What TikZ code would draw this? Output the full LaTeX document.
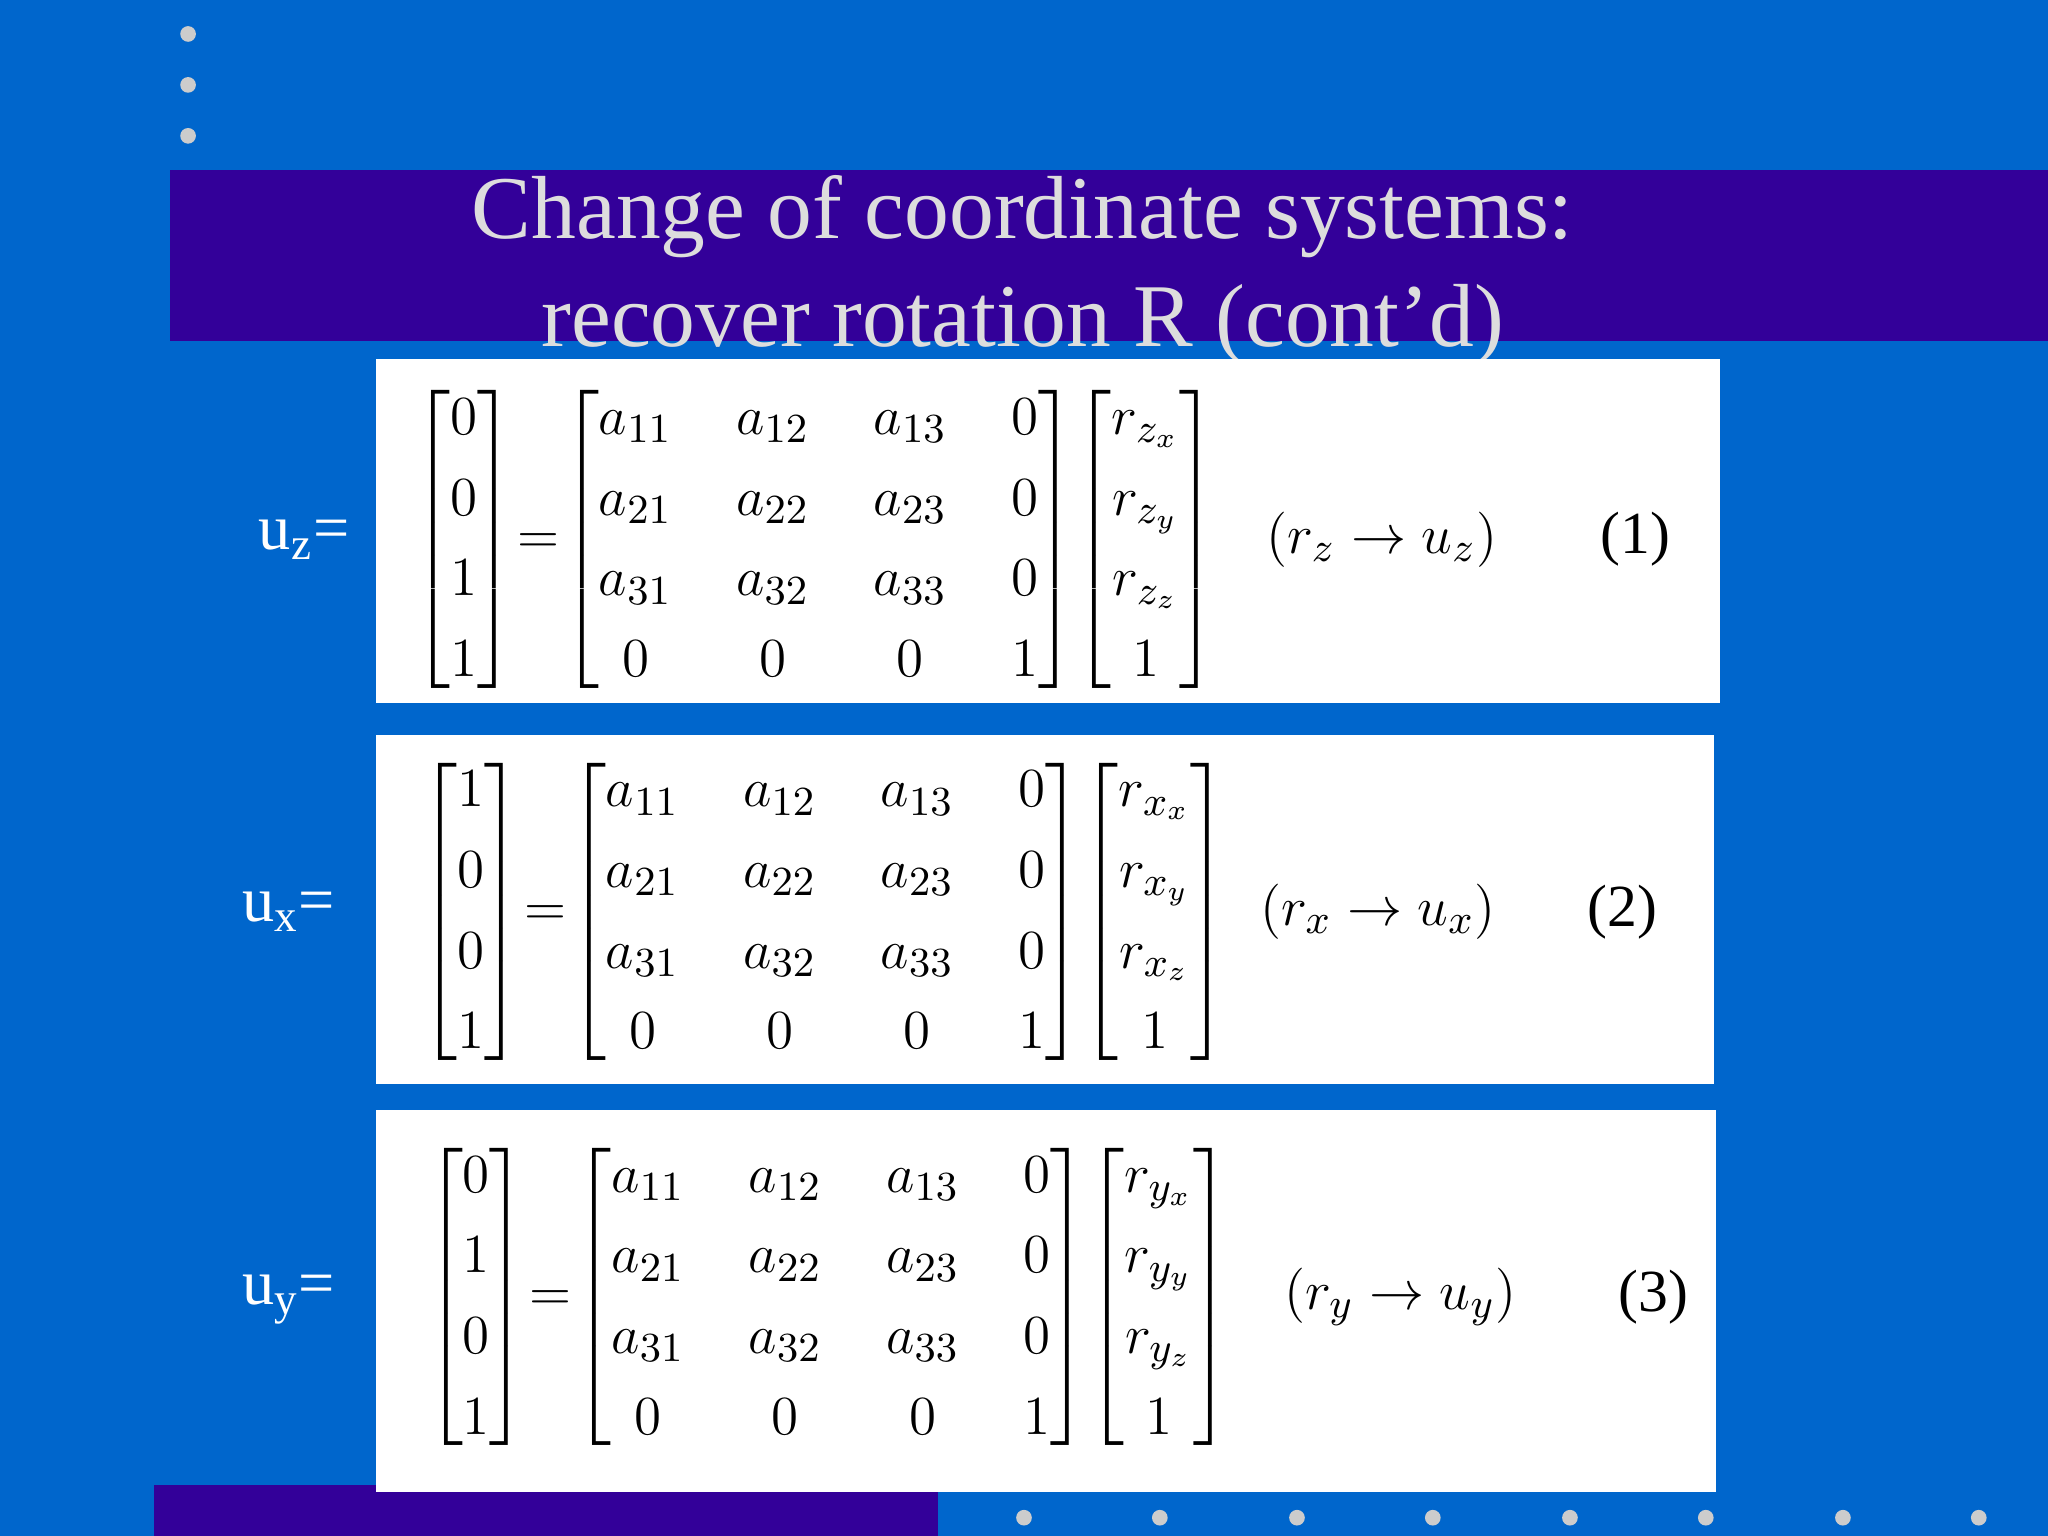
\documentclass[tikz,border=0pt]{standalone}
\usepackage{amsmath}
\usepackage{fontspec}
\setmainfont{Liberation Serif}
\definecolor{bg}{RGB}{0,102,204}
\definecolor{band}{RGB}{51,0,153}
\definecolor{ttl}{RGB}{221,221,221}
\definecolor{dot}{RGB}{204,204,204}
\tikzset{box/.style={fill=white,draw=none},
 dotc/.style={fill=dot,draw=none},
 eqn/.style={inner sep=0pt,font=\fontsize{13}{15}\selectfont,text=black},
 lbl/.style={inner sep=0pt,font=\fontsize{14}{16}\selectfont,text=white}}
\renewcommand{\arraystretch}{1.17}
\delimiterfactor=800
\delimitershortfall=12pt
\newcommand{\Amat}{{\setlength{\arraycolsep}{7pt}\begin{bmatrix}a_{11}&a_{12}&a_{13}&0\\a_{21}&a_{22}&a_{23}&0\\a_{31}&a_{32}&a_{33}&0\\0&0&0&1\end{bmatrix}}}
\newcommand{\Eqs}{\mskip-4mu=\mskip-4mu}
\begin{document}
\begin{tikzpicture}[x=0.01cm,y=-0.01cm]
\fill[bg] (0,0) rectangle (1568,1176);
\useasboundingbox (0,0) rectangle (1568,1176);
\foreach \y in {26,65,104} \fill[dotc] (144,\y) circle (6);
\fill[band] (130,130) rectangle (1568,261);
\fill[band] (118,1137) rectangle (718,1176);
\foreach \x in {784,888,993,1097,1202,1306,1411,1515} \fill[dotc] (\x,1162) circle (6);
\node[text=ttl,font=\fontsize{19.5}{23.5}\selectfont,align=center,inner sep=0pt] (title) at (783,207) {Change of coordinate systems:\\recover rotation R (cont’d)};
\fill[box] (288,275) rectangle (1317,538);
\fill[box] (288,563) rectangle (1312,830);
\fill[box] (288,850) rectangle (1314,1142);
\node[lbl] (lz) at (233,413) {u$_\text{z}$=};
\node[lbl] (lx) at (221,698) {u$_\text{x}$=};
\node[lbl] (ly) at (221,995) {u$_\text{y}$=};
\node[eqn] (e1) at (624,413) {$\begin{bmatrix}0\\0\\1\\1\end{bmatrix}\Eqs\Amat\!\begin{bmatrix}r_{z_x}\\r_{z_y}\\r_{z_z}\\1\end{bmatrix}$};
\node[eqn] (c1) at (1058,413) {$(r_z\rightarrow u_z)$};
\node[eqn] (n1) at (1252,413) {(1)};
\node[eqn] (e2) at (631,698) {$\begin{bmatrix}1\\0\\0\\1\end{bmatrix}\Eqs\Amat\!\begin{bmatrix}r_{x_x}\\r_{x_y}\\r_{x_z}\\1\end{bmatrix}$};
\node[eqn] (c2) at (1055,698) {$(r_x\rightarrow u_x)$};
\node[eqn] (n2) at (1242,698) {(2)};
\node[eqn] (e3) at (634,993) {$\begin{bmatrix}0\\1\\0\\1\end{bmatrix}\Eqs\Amat\!\begin{bmatrix}r_{y_x}\\r_{y_y}\\r_{y_z}\\1\end{bmatrix}$};
\node[eqn] (c3) at (1072,993) {$(r_y\rightarrow u_y)$};
\node[eqn] (n3) at (1266,993) {(3)};
\end{tikzpicture}
\end{document}
